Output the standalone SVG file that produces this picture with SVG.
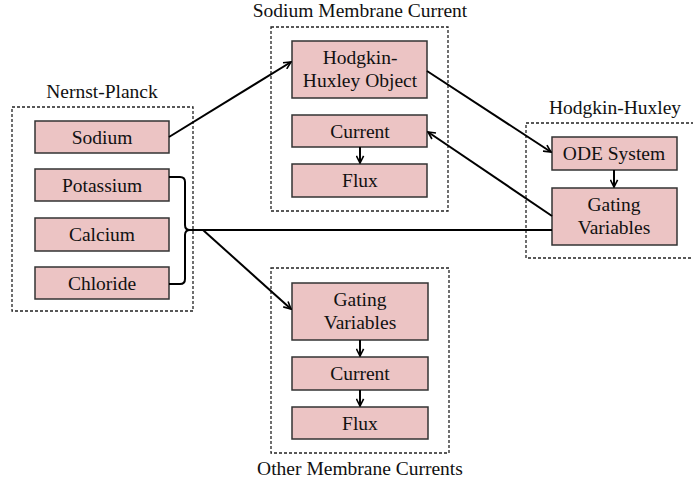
<svg xmlns="http://www.w3.org/2000/svg" width="693" height="486" viewBox="0 0 693 486">
<style>
.grp{fill:none;stroke:#222;stroke-width:1.3;stroke-dasharray:3 2}
.nd{fill:#ecc4c4;stroke:#333;stroke-width:1.5}
text{font-family:'Liberation Serif','Times New Roman','DejaVu Serif',serif;font-size:19.5px;fill:#111;text-anchor:middle}
.c{fill:none;stroke:#000;stroke-width:2}
</style>
<defs>
<marker id="ah" viewBox="0 0 10 10" refX="9" refY="5" markerWidth="9" markerHeight="9" orient="auto" markerUnits="userSpaceOnUse">
<path d="M1,1 L9,5 L1,9" fill="none" stroke="#000" stroke-width="1.8"/>
</marker>
</defs>
<rect width="693" height="486" fill="#fff"/>
<g id="nernst-planck">
<rect class="grp" x="12" y="107" width="181" height="204"/>
<text x="102" y="98">Nernst-Planck</text>
</g>
<g id="sodium-membrane-current">
<rect class="grp" x="271" y="27" width="177" height="184"/>
<text x="360" y="17">Sodium Membrane Current</text>
</g>
<g id="hodgkin-huxley">
<rect class="grp" x="526" y="123" width="170" height="135"/>
<text x="615" y="114">Hodgkin-Huxley</text>
</g>
<g id="other-membrane-currents">
<rect class="grp" x="271" y="268" width="178" height="185"/>
<text x="360" y="475">Other Membrane Currents</text>
</g>
<g id="sodium"><rect class="nd" x="35" y="121" width="134" height="32"/><text x="102" y="144">Sodium</text></g>
<g id="potassium"><rect class="nd" x="35" y="169" width="134" height="32"/><text x="102" y="192">Potassium</text></g>
<g id="calcium"><rect class="nd" x="35" y="218" width="134" height="33"/><text x="102" y="241">Calcium</text></g>
<g id="chloride"><rect class="nd" x="35" y="267" width="134" height="32"/><text x="102" y="290">Chloride</text></g>
<g id="hh-object"><rect class="nd" x="292" y="41" width="135" height="57"/><text x="360" y="64">Hodgkin-</text><text x="360" y="87">Huxley Object</text></g>
<g id="sodium-current"><rect class="nd" x="292" y="115" width="135" height="32"/><text x="360" y="138">Current</text></g>
<g id="sodium-flux"><rect class="nd" x="292" y="164" width="135" height="33"/><text x="360" y="187">Flux</text></g>
<g id="ode-system"><rect class="nd" x="552" y="137" width="125" height="33"/><text x="614" y="160">ODE System</text></g>
<g id="hh-gating"><rect class="nd" x="552" y="188" width="125" height="57"/><text x="614" y="211">Gating</text><text x="614" y="234">Variables</text></g>
<g id="other-gating"><rect class="nd" x="292" y="283" width="136" height="57"/><text x="360" y="306">Gating</text><text x="360" y="329">Variables</text></g>
<g id="other-current"><rect class="nd" x="292" y="357" width="136" height="33"/><text x="360" y="380">Current</text></g>
<g id="other-flux"><rect class="nd" x="292" y="407" width="136" height="32"/><text x="360" y="430">Flux</text></g>
<g id="connectors">
<path class="c" d="M169,137 L291,62" marker-end="url(#ah)"/>
<path class="c" d="M427,71 L551,152" marker-end="url(#ah)"/>
<path class="c" d="M552,216 L428,132" marker-end="url(#ah)"/>
<path class="c" d="M360,147 L360,163" marker-end="url(#ah)"/>
<path class="c" d="M614,170 L614,187" marker-end="url(#ah)"/>
<path class="c" d="M360,340 L360,356" marker-end="url(#ah)"/>
<path class="c" d="M360,390 L360,406" marker-end="url(#ah)"/>
<path class="c" d="M169,177 L180,177 Q185,177 185,182 L185,225 Q185,230 190,230 L552,230"/>
<path class="c" d="M169,284 L180,284 Q185,284 185,279 L185,235 Q185,230 190,230"/>
<path class="c" d="M203,230 L291,309" marker-end="url(#ah)"/>
</g>
</svg>
